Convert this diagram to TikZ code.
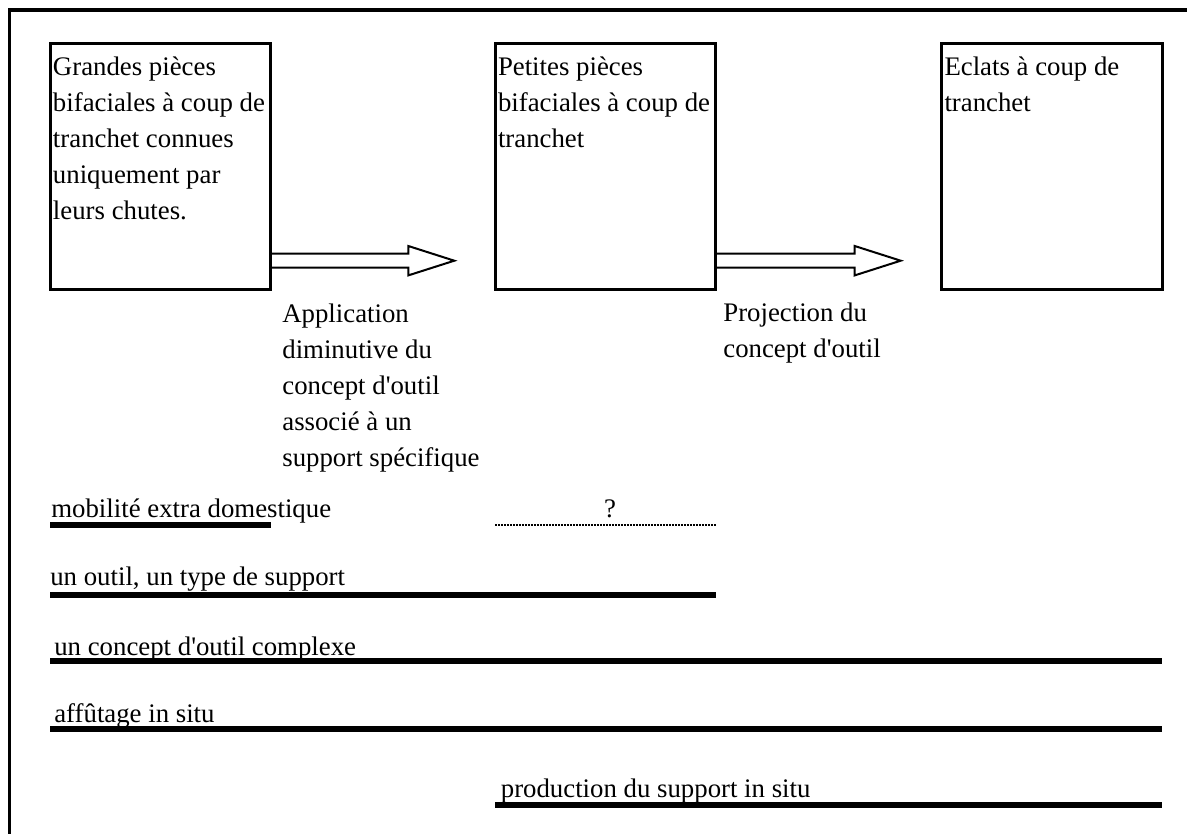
\documentclass[tikz,border=0pt]{standalone}
\usepackage{fontspec}
\setmainfont{Liberation Serif}[Ligatures=TeXOff]
\usetikzlibrary{calc}

\newcommand{\fs}{\fontsize{15.25}{20.5}\selectfont}

\begin{document}
\begin{tikzpicture}[x=0.02cm,y=-0.02cm,
  stage/.style={draw,line width=0.06cm,anchor=north west,outer sep=0pt,align=flush left,
    text width=4.3cm,inner xsep=0.06cm,inner ysep=0.04cm,
    text height=0.59cm,text depth=4.24cm,font=\fs},
  fat arrow/.style={draw,line width=0.04cm},
  note/.style={anchor=north west,inner sep=0pt,align=flush left,text width=5cm,
    text height=0.4cm,font=\fs},
  tag/.style={anchor=base west,inner sep=0pt,font=\fs},
  bar/.style={line width=0.12cm},
  dots/.style={line width=0.045cm,dash pattern=on 0.04cm off 0.02cm}]
  \useasboundingbox (0,0) rectangle (1187,834);
  % frame
  \draw[line width=0.07cm] (9.5,834) -- (9.5,10) -- (1187,10);
  % the three stages
  \node[stage] (g) at (50,44) {Grandes pièces\\bifaciales~à~coup~de\\tranchet connues\\uniquement par\\leurs chutes.};
  \node[stage] (p) at (495,44) {Petites pièces\\bifaciales~à~coup~de\\tranchet};
  \node[stage] (e) at (941.5,44) {Eclats à coup de\\tranchet};
  % arrows
  \coordinate (tip1) at (454.3,260.7);
  \coordinate (tip2) at (900.7,260.7);
  \draw[fat arrow] ($(g.east |- tip1)+(0,-7)$) -- ($(tip1)+(-46,-7)$) -- ($(tip1)+(-46,-14.7)$)
    -- (tip1) -- ($(tip1)+(-46,14.7)$) -- ($(tip1)+(-46,7)$) -- ($(g.east |- tip1)+(0,7)$);
  \draw[fat arrow] ($(p.east |- tip2)+(0,-7)$) -- ($(tip2)+(-46,-7)$) -- ($(tip2)+(-46,-14.7)$)
    -- (tip2) -- ($(tip2)+(-46,14.7)$) -- ($(tip2)+(-46,7)$) -- ($(p.east |- tip2)+(0,7)$);
  \node[note] (appl) at (282,301.7) {Application\\diminutive du\\concept d'outil\\associé à un\\support spécifique};
  \node[note] (proj) at (723,300.7) {Projection du\\concept d'outil};
  % lines below
  \node[tag] (mob) at (51,518) {mobilité extra domestique};
  \draw[bar] (g.west |- 0,525) -- (g.east |- 0,525);
  \node[font=\fs,inner sep=0pt,anchor=base] (q) at (610,518) {?};
  \draw[dots] (p.west |- 0,525) -- (p.east |- 0,525);
  \node[tag] (outil) at (50,585.5) {un outil, un type de support};
  \draw[bar] (g.west |- 0,594.5) -- (p.east |- 0,594.5);
  \node[tag] (cplx) at (54,655) {un concept d'outil complexe};
  \draw[bar] (g.west |- 0,661) -- (e.east |- 0,661);
  \node[tag] (aff) at (54,722) {affûtage in situ};
  \draw[bar] (g.west |- 0,729) -- (e.east |- 0,729);
  \node[tag] (prod) at (500.5,797) {production du support in situ};
  \draw[bar] (p.west |- 0,805) -- (e.east |- 0,805);
\end{tikzpicture}
\end{document}
